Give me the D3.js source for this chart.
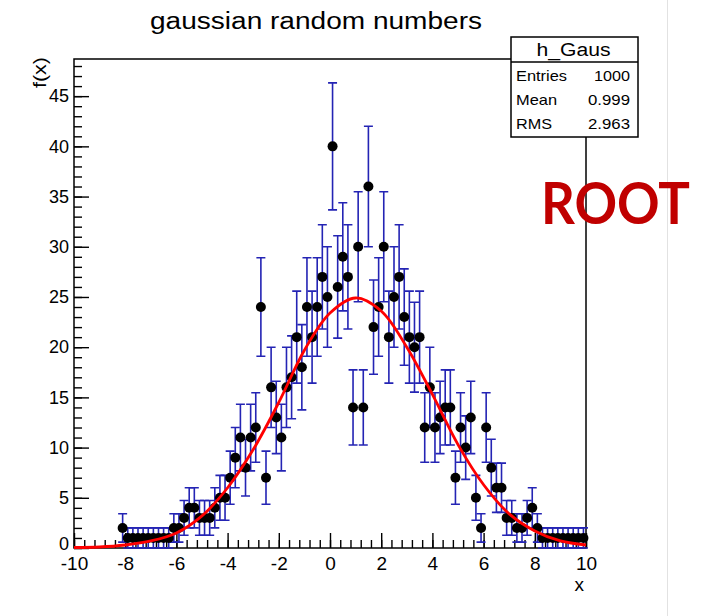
<!DOCTYPE html>
<html>
<head>
<meta charset="utf-8">
<script src="https://cdn.jsdelivr.net/npm/d3@7"></script>
<style>
  html, body { margin: 0; background: #ffffff; }
  svg { display: block; }
</style>
</head>
<body>
<div id="chart"></div>
<script>
// histogram h_Gaus: 100 bins from -10 to 10
const binLow = -10;
const binHigh = 10;
const counts = [
    0, 0, 0, 0, 0, 0, 0, 0, 0, 2,
    1, 1, 1, 1, 1, 1, 1, 1, 1, 2,
    2, 3, 4, 4, 3, 3, 3, 4, 5, 5,
    7, 9, 11, 8, 11, 12, 24, 7, 16, 13,
    11, 16, 17, 21, 18, 24, 21, 24, 27, 25,
    40, 26, 29, 27, 14, 30, 14, 36, 22, 24,
    30, 21, 25, 27, 23, 21, 20, 21, 12, 16,
    12, 13, 14, 14, 7, 12, 10, 13, 5, 2,
    12, 8, 6, 6, 3, 3, 2, 2, 3, 4,
    2, 1, 1, 1, 1, 1, 1, 1, 1, 1
];

// red fit curve
const fitX = [-10, -9, -8, -7, -6, -5, -4, -3, -2, -1, 0, 1, 2, 3, 4, 5, 6, 7, 8, 9, 10];
const fitY = [0.05, 0.1, 0.3, 0.7, 1.5, 3.2, 6.0, 9.8, 14.5, 19.7, 23.4, 24.9, 23.6, 20.0, 15.3, 10.3, 6.3, 3.4, 1.7, 0.7, 0.3];

const xTicks = [-10, -8, -6, -4, -2, 0, 2, 4, 6, 8, 10];
const yTicks = [0, 5, 10, 15, 20, 25, 30, 35, 40, 45];
const yMax = 48.7;

const statLabels = ["Entries", "Mean", "RMS"];
const statValues = ["1000", "0.999", "2.963"];

(function() {
    const COLORS = {
        ink: "#000000",
        err: "#2424b4",
        fit: "#ff0000",
        logo: "#c00000",
        rule: "#e2e2e2"
    };
    const FONT = "'Liberation Sans', Arial, Helvetica, sans-serif";

    const W = 703, H = 616;
    const frame = { left: 74, right: 586, top: 59, bottom: 548 };

    const svg = d3.select("#chart").append("svg")
        .attr("width", W)
        .attr("height", H)
        .attr("viewBox", `0 0 ${W} ${H}`);

    // faint slide divider on the right
    svg.append("line")
        .attr("x1", 667.5).attr("x2", 667.5)
        .attr("y1", 0).attr("y2", H)
        .attr("stroke", COLORS.rule)
        .attr("stroke-width", 1);

    const x = d3.scaleLinear().domain([binLow, binHigh]).range([frame.left, frame.right]);
    const y = d3.scaleLinear().domain([0, yMax]).range([frame.bottom, frame.top]);

    const binW = (binHigh - binLow) / counts.length;
    const bins = counts.map((c, i) => ({ x: binLow + (i + 0.5) * binW, c: c }))
        .filter(d => d.c > 0);

    // title
    svg.append("text")
        .attr("x", 150).attr("y", 29)
        .attr("font-family", FONT)
        .attr("font-size", 23)
        .attr("textLength", 332)
        .attr("lengthAdjust", "spacingAndGlyphs")
        .attr("fill", COLORS.ink)
        .text("gaussian random numbers");

    // X axis (ticks inside frame)
    const minorX = d3.range(binLow, binHigh + 0.001, 0.4).map(v => +v.toFixed(1));
    svg.append("g")
        .attr("transform", `translate(0,${frame.bottom})`)
        .call(d3.axisBottom(x).tickValues(minorX).tickSize(-8).tickFormat(""))
        .call(g => g.select(".domain").remove())
        .call(g => g.selectAll("line").attr("stroke", COLORS.ink).attr("stroke-width", 1.4));

    svg.append("g")
        .attr("transform", `translate(0,${frame.bottom})`)
        .call(d3.axisBottom(x).tickValues(xTicks).tickSize(-15).tickPadding(9).tickFormat(d3.format("d")))
        .call(g => g.select(".domain").remove())
        .call(g => g.selectAll("line").attr("stroke", COLORS.ink).attr("stroke-width", 1.4))
        .call(g => g.selectAll("text")
            .attr("font-family", FONT)
            .attr("font-size", 19)
            .attr("fill", COLORS.ink)
            .text(d => d < 0 ? "-" + Math.abs(d) : d));

    // Y axis
    const minorY = d3.range(0, 49, 1);
    svg.append("g")
        .attr("transform", `translate(${frame.left},0)`)
        .call(d3.axisLeft(y).tickValues(minorY).tickSize(-8).tickFormat(""))
        .call(g => g.select(".domain").remove())
        .call(g => g.selectAll("line").attr("stroke", COLORS.ink).attr("stroke-width", 1.4));

    svg.append("g")
        .attr("transform", `translate(${frame.left},0)`)
        .call(d3.axisLeft(y).tickValues(yTicks).tickSize(-15).tickPadding(5))
        .call(g => g.select(".domain").remove())
        .call(g => g.selectAll("line").attr("stroke", COLORS.ink).attr("stroke-width", 1.4))
        .call(g => g.selectAll("text")
            .attr("font-family", FONT)
            .attr("font-size", 18)
            .attr("fill", COLORS.ink))
        .call(g => g.selectAll(".tick").filter(d => d === 0).select("text").attr("dy", "0.1em"));

    // frame
    svg.append("rect")
        .attr("x", frame.left).attr("y", frame.top)
        .attr("width", frame.right - frame.left)
        .attr("height", frame.bottom - frame.top)
        .attr("fill", "none")
        .attr("stroke", COLORS.ink)
        .attr("stroke-width", 1.5);

    // axis titles
    svg.append("text")
        .attr("x", frame.right - 2).attr("y", 591)
        .attr("text-anchor", "end")
        .attr("font-family", FONT)
        .attr("font-size", 19)
        .attr("fill", COLORS.ink)
        .text("x");

    svg.append("text")
        .attr("transform", `translate(46,${frame.top - 2}) rotate(-90)`)
        .attr("text-anchor", "end")
        .attr("font-family", FONT)
        .attr("font-size", 18)
        .attr("textLength", 31)
        .attr("lengthAdjust", "spacingAndGlyphs")
        .attr("fill", COLORS.ink)
        .text("f(x)");

    // error bars
    const cap = 4.5;
    const eb = svg.append("g")
        .attr("stroke", COLORS.err)
        .attr("stroke-width", 1.6)
        .attr("fill", "none");

    eb.selectAll("path")
        .data(bins)
        .join("path")
        .attr("d", d => {
            const cx = x(d.x);
            const lo = y(Math.max(0, d.c - Math.sqrt(d.c)));
            const hi = y(d.c + Math.sqrt(d.c));
            return `M${cx},${lo}V${hi}M${cx - cap},${hi}H${cx + cap}M${cx - cap},${lo}H${cx + cap}`;
        });

    // markers
    svg.append("g")
        .selectAll("circle")
        .data(bins)
        .join("circle")
        .attr("cx", d => x(d.x))
        .attr("cy", d => y(d.c))
        .attr("r", 5)
        .attr("fill", COLORS.ink);

    // fit
    const line = d3.line()
        .x((d, i) => x(fitX[i]))
        .y(d => y(d))
        .curve(d3.curveCatmullRom);

    svg.append("path")
        .datum(fitY)
        .attr("fill", "none")
        .attr("stroke", COLORS.fit)
        .attr("stroke-width", 2.8)
        .attr("d", line);

    // stats box
    const box = { x: 511, y: 37, w: 127, h: 100, head: 25 };
    const stats = svg.append("g");
    stats.append("rect")
        .attr("x", box.x).attr("y", box.y)
        .attr("width", box.w).attr("height", box.h)
        .attr("fill", "#ffffff")
        .attr("stroke", COLORS.ink)
        .attr("stroke-width", 1.5);
    stats.append("line")
        .attr("x1", box.x).attr("x2", box.x + box.w)
        .attr("y1", box.y + box.head).attr("y2", box.y + box.head)
        .attr("stroke", COLORS.ink)
        .attr("stroke-width", 1.5);
    stats.append("text")
        .attr("x", 573.5).attr("y", 56)
        .attr("text-anchor", "middle")
        .attr("font-family", FONT)
        .attr("font-size", 18)
        .attr("textLength", 74)
        .attr("lengthAdjust", "spacingAndGlyphs")
        .text("h_Gaus");

    const rowY = [81, 105, 128.5];
    const labelW = [51, 41, 36];
    const valueW = [36, 42, 42];
    statLabels.forEach((lab, i) => {
        stats.append("text")
            .attr("x", 516).attr("y", rowY[i])
            .attr("font-family", FONT)
            .attr("font-size", 15)
            .attr("textLength", labelW[i])
            .attr("lengthAdjust", "spacingAndGlyphs")
            .text(lab);
        stats.append("text")
            .attr("x", 630 - valueW[i]).attr("y", rowY[i])
            .attr("font-family", FONT)
            .attr("font-size", 15)
            .attr("textLength", valueW[i])
            .attr("lengthAdjust", "spacingAndGlyphs")
            .text(statValues[i]);
    });

    // ROOT logo text
    svg.append("text")
        .attr("x", 541).attr("y", 224)
        .attr("font-family", "Lato, 'Open Sans', sans-serif")
        .attr("font-weight", 700)
        .attr("font-size", 57)
        .attr("textLength", 149)
        .attr("lengthAdjust", "spacingAndGlyphs")
        .attr("fill", COLORS.logo)
        .text("ROOT");
})();
</script>
</body>
</html>
